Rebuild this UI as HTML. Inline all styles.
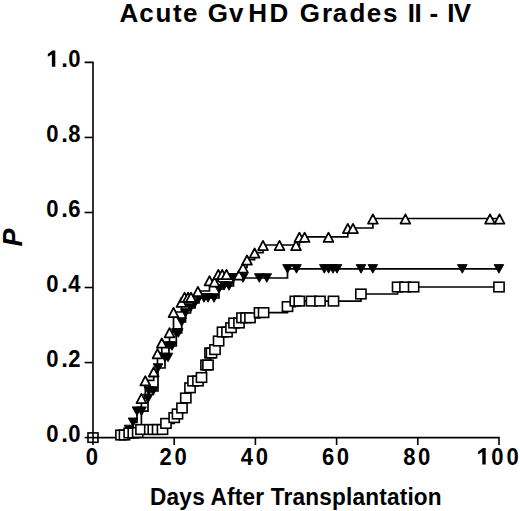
<!DOCTYPE html>
<html><head><meta charset="utf-8"><title>Acute GvHD Grades II - IV</title>
<style>html,body{margin:0;padding:0;background:#fff;width:520px;height:511px;overflow:hidden;font-family:"Liberation Sans",sans-serif}svg{display:block}</style>
</head><body>
<svg width="520" height="511" viewBox="0 0 520 511">
<rect width="520" height="511" fill="#fff"/>
<text x="119.55 139.15 155.55 173.10 183.05 207.70 229.10 248.15 269.45 299.85 322.00 332.65 349.45 366.85 383.10 407.75 414.60 429.60 447.35 453.85" y="21.5" font-family="Liberation Sans" font-weight="bold" font-size="26" fill="#000">AcuteGvHDGradesII-IV</text>
<text transform="translate(21.5,237.6) rotate(-90)" text-anchor="middle" font-family="Liberation Sans" font-weight="bold" font-style="italic" font-size="27" fill="#000">P</text>
<text transform="translate(150.1,504.7) scale(1,1.05)" font-family="Liberation Sans" font-weight="bold" font-size="22.6" letter-spacing="0.2" fill="#000">Days After Transplantation</text>
<g stroke="#000" stroke-width="1.6" fill="none"><path stroke-linejoin="miter" d="M84.6 62.40 H93.0 V437.60 H499.0 V445.0"/><path d="M84.6 437.60 H93.0"/><path d="M84.6 362.56 H93.0"/><path d="M84.6 287.52 H93.0"/><path d="M84.6 212.48 H93.0"/><path d="M84.6 137.44 H93.0"/><path d="M93.0 437.60 V445.0"/><path d="M174.2 437.60 V445.0"/><path d="M255.4 437.60 V445.0"/><path d="M336.6 437.60 V445.0"/><path d="M417.8 437.60 V445.0"/></g>
<g font-family="Liberation Sans" font-weight="bold" font-size="24" text-anchor="middle" fill="#000"><text transform="translate(52.40,442.30) scale(0.92,1)">0</text><text transform="translate(64.70,442.30) scale(1.00,1)">.</text><text transform="translate(74.40,442.30) scale(0.92,1)">0</text><text transform="translate(52.40,367.26) scale(0.92,1)">0</text><text transform="translate(64.70,367.26) scale(1.00,1)">.</text><text transform="translate(74.40,367.26) scale(0.92,1)">2</text><text transform="translate(52.40,292.22) scale(0.92,1)">0</text><text transform="translate(64.70,292.22) scale(1.00,1)">.</text><text transform="translate(74.40,292.22) scale(0.92,1)">4</text><text transform="translate(52.40,217.18) scale(0.92,1)">0</text><text transform="translate(64.70,217.18) scale(1.00,1)">.</text><text transform="translate(74.40,217.18) scale(0.92,1)">6</text><text transform="translate(52.40,142.14) scale(0.92,1)">0</text><text transform="translate(64.70,142.14) scale(1.00,1)">.</text><text transform="translate(74.40,142.14) scale(0.92,1)">8</text><path d="M51.90 66.80 V54.40 L47.80 56.80 V53.90 L52.50 50.40 H55.30 V66.80 Z"/><text transform="translate(64.70,67.10) scale(1.00,1)">.</text><text transform="translate(74.40,67.10) scale(0.92,1)">0</text><text transform="translate(91.90,464.80) scale(0.92,1)">0</text><text transform="translate(165.70,464.80) scale(0.92,1)">2</text><text transform="translate(180.60,464.80) scale(0.92,1)">0</text><text transform="translate(246.90,464.80) scale(0.92,1)">4</text><text transform="translate(261.80,464.80) scale(0.92,1)">0</text><text transform="translate(328.10,464.80) scale(0.92,1)">6</text><text transform="translate(343.00,464.80) scale(0.92,1)">0</text><text transform="translate(409.30,464.80) scale(0.92,1)">8</text><text transform="translate(424.20,464.80) scale(0.92,1)">0</text><path d="M482.30 464.50 V452.10 L478.20 454.50 V451.60 L482.90 448.10 H485.70 V464.50 Z"/><text transform="translate(497.40,464.80) scale(0.92,1)">0</text><text transform="translate(512.70,464.80) scale(0.92,1)">0</text></g>
<g stroke="#000" stroke-width="1.7" fill="none">
<path d="M129.0 437.6 H129.0 V429.5 H133.0 V422.3 H137.0 V411.2 H141.5 V411.2 H148.0 V398.5 H148.8 V391.0 H153.2 V391.0 H158.0 V368.0 H165.0 V357.5 H168.0 V357.5 H169.0 V346.0 H172.0 V346.0 H176.3 V333.0 H178.3 V333.0 H181.7 V322.0 H185.5 V313.0 H190.5 V308.0 H195.0 V303.0 H199.0 V298.0 H204.0 V298.0 H208.0 V298.0 H214.0 V298.0 H219.0 V289.0 H224.0 V285.8 H229.0 V286.0 H233.5 V278.0 H243.0 V278.0 H259.3 V278.0 H266.8 V278.0 H287.5 V268.9 H296.5 V268.9 H324.3 V268.9 H328.6 V268.9 H333.0 V268.9 H337.0 V268.9 H361.0 V268.9 H372.8 V268.9 H462.3 V268.9 H498.9 V268.9"/>
<path d="M121.0 437.6 H121.0 V435.0 H124.5 V435.0 H129.2 V433.0 H133.3 V433.0 H137.7 V432.5 H141.0 V429.5 H149.8 V429.5 H153.3 V429.5 H157.6 V429.5 H162.5 V429.5 H166.0 V423.4 H174.2 V417.6 H177.5 V414.0 H182.0 V408.0 H185.8 V398.0 H190.0 V387.8 H193.0 V381.0 H198.0 V381.0 H201.5 V377.5 H206.0 V365.0 H208.0 V365.0 H210.0 V353.0 H211.5 V353.0 H215.0 V349.6 H218.6 V341.0 H222.5 V332.0 H227.0 V332.0 H231.0 V327.7 H234.0 V323.0 H239.0 V323.0 H242.0 V317.8 H246.0 V317.8 H250.0 V317.8 H259.5 V312.6 H263.6 V312.6 H287.5 V306.6 H295.3 V301.1 H299.3 V301.1 H311.5 V301.1 H320.0 V301.1 H333.5 V301.1 H360.9 V294.0 H397.6 V287.0 H405.0 V287.0 H413.6 V287.0 H499.0 V287.0"/>
<path d="M141.4 437.6 H141.4 V398.0 H145.3 V380.3 H153.7 V371.4 H157.5 V353.2 H161.8 V342.6 H169.5 V332.2 H173.5 V312.0 H181.5 V301.8 H184.6 V296.8 H188.1 V296.8 H191.0 V296.8 H197.9 V291.0 H209.5 V280.3 H214.5 V281.5 H218.3 V274.0 H222.2 V274.0 H226.5 V274.0 H239.0 V274.5 H243.0 V267.5 H247.0 V259.6 H254.6 V252.6 H263.0 V245.0 H279.5 V245.0 H296.0 V245.0 H299.4 V236.8 H304.6 V236.8 H328.5 V236.8 H347.8 V228.0 H353.0 V228.0 H372.9 V218.5 H405.4 V218.5 H490.0 V218.5 H499.5 V218.5"/>
</g>
<g fill="#000" stroke="#000" stroke-width="0.9" stroke-linejoin="round"><path d="M124.2 425.2 L133.8 425.2 L129.0 433.8 Z"/><path d="M128.2 418.0 L137.8 418.0 L133.0 426.6 Z"/><path d="M132.2 406.9 L141.8 406.9 L137.0 415.5 Z"/><path d="M136.7 406.9 L146.3 406.9 L141.5 415.5 Z"/><path d="M143.2 394.2 L152.8 394.2 L148.0 402.8 Z"/><path d="M144.0 386.7 L153.6 386.7 L148.8 395.3 Z"/><path d="M148.4 386.7 L158.0 386.7 L153.2 395.3 Z"/><path d="M153.2 363.7 L162.8 363.7 L158.0 372.3 Z"/><path d="M160.2 353.2 L169.8 353.2 L165.0 361.8 Z"/><path d="M163.2 353.2 L172.8 353.2 L168.0 361.8 Z"/><path d="M164.2 341.7 L173.8 341.7 L169.0 350.3 Z"/><path d="M167.2 341.7 L176.8 341.7 L172.0 350.3 Z"/><path d="M171.5 328.7 L181.1 328.7 L176.3 337.3 Z"/><path d="M173.5 328.7 L183.1 328.7 L178.3 337.3 Z"/><path d="M176.9 317.7 L186.5 317.7 L181.7 326.3 Z"/><path d="M180.7 308.7 L190.3 308.7 L185.5 317.3 Z"/><path d="M185.7 303.7 L195.3 303.7 L190.5 312.3 Z"/><path d="M190.2 298.7 L199.8 298.7 L195.0 307.3 Z"/><path d="M194.2 293.7 L203.8 293.7 L199.0 302.3 Z"/><path d="M199.2 293.7 L208.8 293.7 L204.0 302.3 Z"/><path d="M203.2 293.7 L212.8 293.7 L208.0 302.3 Z"/><path d="M209.2 293.7 L218.8 293.7 L214.0 302.3 Z"/><path d="M214.2 284.7 L223.8 284.7 L219.0 293.3 Z"/><path d="M219.2 281.5 L228.8 281.5 L224.0 290.1 Z"/><path d="M224.2 281.7 L233.8 281.7 L229.0 290.3 Z"/><path d="M228.7 273.7 L238.3 273.7 L233.5 282.3 Z"/><path d="M238.2 273.7 L247.8 273.7 L243.0 282.3 Z"/><path d="M254.5 273.7 L264.1 273.7 L259.3 282.3 Z"/><path d="M262.0 273.7 L271.6 273.7 L266.8 282.3 Z"/><path d="M282.7 264.6 L292.3 264.6 L287.5 273.2 Z"/><path d="M291.7 264.6 L301.3 264.6 L296.5 273.2 Z"/><path d="M319.5 264.6 L329.1 264.6 L324.3 273.2 Z"/><path d="M323.8 264.6 L333.4 264.6 L328.6 273.2 Z"/><path d="M328.2 264.6 L337.8 264.6 L333.0 273.2 Z"/><path d="M332.2 264.6 L341.8 264.6 L337.0 273.2 Z"/><path d="M356.2 264.6 L365.8 264.6 L361.0 273.2 Z"/><path d="M368.0 264.6 L377.6 264.6 L372.8 273.2 Z"/><path d="M457.5 264.6 L467.1 264.6 L462.3 273.2 Z"/><path d="M494.1 264.6 L503.7 264.6 L498.9 273.2 Z"/></g>
<g fill="#fff" stroke="#000" stroke-width="1.6"><rect x="115.9" y="430.2" width="10.2" height="9.6"/><rect x="119.4" y="430.2" width="10.2" height="9.6"/><rect x="124.1" y="428.2" width="10.2" height="9.6"/><rect x="128.2" y="428.2" width="10.2" height="9.6"/><rect x="132.6" y="427.7" width="10.2" height="9.6"/><rect x="135.9" y="424.7" width="10.2" height="9.6"/><rect x="144.7" y="424.7" width="10.2" height="9.6"/><rect x="148.2" y="424.7" width="10.2" height="9.6"/><rect x="152.5" y="424.7" width="10.2" height="9.6"/><rect x="157.4" y="424.7" width="10.2" height="9.6"/><rect x="160.9" y="418.6" width="10.2" height="9.6"/><rect x="169.1" y="412.8" width="10.2" height="9.6"/><rect x="172.4" y="409.2" width="10.2" height="9.6"/><rect x="176.9" y="403.2" width="10.2" height="9.6"/><rect x="180.7" y="393.2" width="10.2" height="9.6"/><rect x="184.9" y="383.0" width="10.2" height="9.6"/><rect x="187.9" y="376.2" width="10.2" height="9.6"/><rect x="192.9" y="376.2" width="10.2" height="9.6"/><rect x="196.4" y="372.7" width="10.2" height="9.6"/><rect x="200.9" y="360.2" width="10.2" height="9.6"/><rect x="202.9" y="360.2" width="10.2" height="9.6"/><rect x="204.9" y="348.2" width="10.2" height="9.6"/><rect x="206.4" y="348.2" width="10.2" height="9.6"/><rect x="209.9" y="344.8" width="10.2" height="9.6"/><rect x="213.5" y="336.2" width="10.2" height="9.6"/><rect x="217.4" y="327.2" width="10.2" height="9.6"/><rect x="221.9" y="327.2" width="10.2" height="9.6"/><rect x="225.9" y="322.9" width="10.2" height="9.6"/><rect x="228.9" y="318.2" width="10.2" height="9.6"/><rect x="233.9" y="318.2" width="10.2" height="9.6"/><rect x="236.9" y="313.0" width="10.2" height="9.6"/><rect x="240.9" y="313.0" width="10.2" height="9.6"/><rect x="244.9" y="313.0" width="10.2" height="9.6"/><rect x="254.4" y="307.8" width="10.2" height="9.6"/><rect x="258.5" y="307.8" width="10.2" height="9.6"/><rect x="282.4" y="301.8" width="10.2" height="9.6"/><rect x="290.2" y="296.3" width="10.2" height="9.6"/><rect x="294.2" y="296.3" width="10.2" height="9.6"/><rect x="306.4" y="296.3" width="10.2" height="9.6"/><rect x="314.9" y="296.3" width="10.2" height="9.6"/><rect x="328.4" y="296.3" width="10.2" height="9.6"/><rect x="355.8" y="289.2" width="10.2" height="9.6"/><rect x="392.5" y="282.2" width="10.2" height="9.6"/><rect x="399.9" y="282.2" width="10.2" height="9.6"/><rect x="408.5" y="282.2" width="10.2" height="9.6"/><rect x="493.9" y="282.2" width="10.2" height="9.6"/></g>
<g fill="#fff" stroke="#000" stroke-width="1.8" stroke-linejoin="round"><path d="M141.4 393.9 L146.3 403.1 L136.5 403.1 Z"/><path d="M145.3 376.2 L150.2 385.4 L140.4 385.4 Z"/><path d="M153.7 367.3 L158.6 376.5 L148.8 376.5 Z"/><path d="M157.5 349.1 L162.4 358.3 L152.6 358.3 Z"/><path d="M161.8 338.5 L166.7 347.7 L156.9 347.7 Z"/><path d="M169.5 328.1 L174.4 337.3 L164.6 337.3 Z"/><path d="M173.5 307.9 L178.4 317.1 L168.6 317.1 Z"/><path d="M181.5 297.7 L186.4 306.9 L176.6 306.9 Z"/><path d="M184.6 292.7 L189.5 301.9 L179.7 301.9 Z"/><path d="M188.1 292.7 L193.0 301.9 L183.2 301.9 Z"/><path d="M191.0 292.7 L195.9 301.9 L186.1 301.9 Z"/><path d="M197.9 286.9 L202.8 296.1 L193.0 296.1 Z"/><path d="M209.5 276.2 L214.4 285.4 L204.6 285.4 Z"/><path d="M214.5 277.4 L219.4 286.6 L209.6 286.6 Z"/><path d="M218.3 269.9 L223.2 279.1 L213.4 279.1 Z"/><path d="M222.2 269.9 L227.1 279.1 L217.3 279.1 Z"/><path d="M226.5 269.9 L231.4 279.1 L221.6 279.1 Z"/><path d="M239.0 270.4 L243.9 279.6 L234.1 279.6 Z"/><path d="M243.0 263.4 L247.9 272.6 L238.1 272.6 Z"/><path d="M247.0 255.5 L251.9 264.7 L242.1 264.7 Z"/><path d="M254.6 248.5 L259.5 257.7 L249.7 257.7 Z"/><path d="M263.0 240.9 L267.9 250.1 L258.1 250.1 Z"/><path d="M279.5 240.9 L284.4 250.1 L274.6 250.1 Z"/><path d="M296.0 240.9 L300.9 250.1 L291.1 250.1 Z"/><path d="M299.4 232.7 L304.3 241.9 L294.5 241.9 Z"/><path d="M304.6 232.7 L309.5 241.9 L299.7 241.9 Z"/><path d="M328.5 232.7 L333.4 241.9 L323.6 241.9 Z"/><path d="M347.8 223.9 L352.7 233.1 L342.9 233.1 Z"/><path d="M353.0 223.9 L357.9 233.1 L348.1 233.1 Z"/><path d="M372.9 214.4 L377.8 223.6 L368.0 223.6 Z"/><path d="M405.4 214.4 L410.3 223.6 L400.5 223.6 Z"/><path d="M490.0 214.4 L494.9 223.6 L485.1 223.6 Z"/><path d="M499.5 214.4 L504.4 223.6 L494.6 223.6 Z"/></g>
<g fill="none" stroke="#000" stroke-width="1.6"><rect x="88.0" y="432.9" width="10" height="9.4"/></g>
</svg>
</body></html>
